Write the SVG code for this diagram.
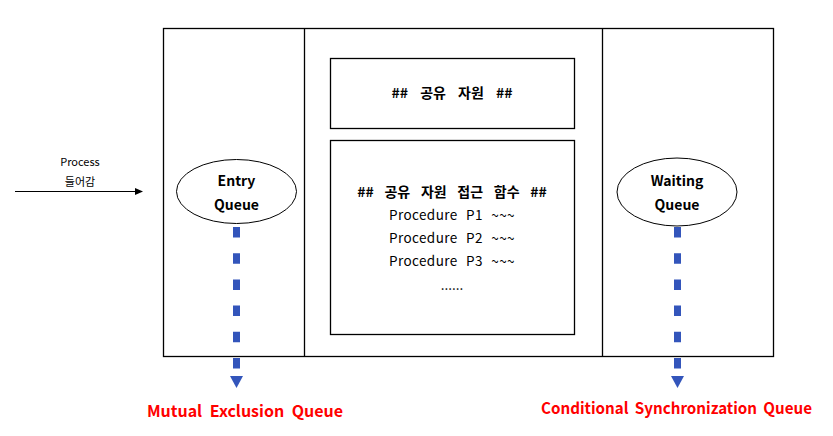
<svg xmlns="http://www.w3.org/2000/svg" width="833" height="436" viewBox="0 0 833 436">
<defs>
<style>
.box{fill:#fff;stroke:#000;stroke-width:1.3}
.ell{fill:#fff;stroke:#000;stroke-width:1}
.t{font-family:"Noto Sans CJK KR","Noto Sans",sans-serif;fill:#000;text-anchor:middle}
.b{font-weight:bold;font-size:14px}
.n{font-size:13.5px}
.s{font-size:11px}
.red{font-family:"Noto Sans CJK KR","Noto Sans",sans-serif;font-weight:bold;font-size:16px;fill:#ff0000;text-anchor:middle}
.dash{stroke:#3355bb;stroke-width:7;stroke-dasharray:10.5 15.7;fill:none}
</style>
<marker id="ah" markerWidth="8" markerHeight="8" refX="7" refY="4" orient="auto" markerUnits="userSpaceOnUse">
<path d="M0,0.5 L8,4 L0,7.5 Z" fill="#000"/>
</marker>
</defs>
<rect width="833" height="436" fill="#fff"/>
<g id="monitor">
<rect class="box" x="163.5" y="28.5" width="610" height="328"/>
<line x1="304.5" y1="28.5" x2="304.5" y2="356.5" stroke="#000" stroke-width="1.3"/>
<line x1="602.5" y1="28.5" x2="602.5" y2="356.5" stroke="#000" stroke-width="1.3"/>
</g>
<g id="shared-resource">
<rect class="box" x="330.5" y="58.5" width="244" height="70"/>
<text class="t b" x="452" y="98" word-spacing="9">## 공유 자원 ##</text>
</g>
<g id="access-functions">
<rect class="box" x="330.5" y="140.5" width="244" height="194"/>
<text class="t b" x="452" y="197" word-spacing="7.5">## 공유 자원 접근 함수 ##</text>
<text class="t n" x="452" y="220" word-spacing="5" letter-spacing="0.4">Procedure P1 ~~~</text>
<text class="t n" x="452" y="243" word-spacing="5" letter-spacing="0.4">Procedure P2 ~~~</text>
<text class="t n" x="452" y="266" word-spacing="5" letter-spacing="0.4">Procedure P3 ~~~</text>
<text class="t n" x="452" y="290">......</text>
</g>
<g id="connectors">
<line x1="15" y1="191.5" x2="142" y2="191.5" stroke="#000" stroke-width="1.2" marker-end="url(#ah)"/>
<line class="dash" x1="236.5" y1="227" x2="236.5" y2="375"/>
<path d="M230,376 L243,376 L236.5,388 Z" fill="#3355bb"/>
<line class="dash" x1="677.5" y1="227" x2="677.5" y2="375"/>
<path d="M671,376 L684,376 L677.5,388 Z" fill="#3355bb"/>
</g>
<g id="process-label">
<text class="t s" x="80" y="166">Process</text>
<text class="t s" x="80" y="186">들어감</text>
</g>
<g id="entry-queue">
<ellipse class="ell" cx="236.5" cy="191.5" rx="60" ry="32"/>
<text class="t b" x="236.5" y="186">Entry</text>
<text class="t b" x="236.5" y="210">Queue</text>
</g>
<g id="waiting-queue">
<ellipse class="ell" cx="677" cy="192" rx="60" ry="34"/>
<text class="t b" x="677" y="186">Waiting</text>
<text class="t b" x="677" y="210">Queue</text>
</g>
<g id="labels">
<text class="red" x="245" y="417" word-spacing="4">Mutual Exclusion Queue</text>
<text class="red" x="676.5" y="414" word-spacing="3" textLength="271" lengthAdjust="spacingAndGlyphs">Conditional Synchronization Queue</text>
</g>
</svg>
